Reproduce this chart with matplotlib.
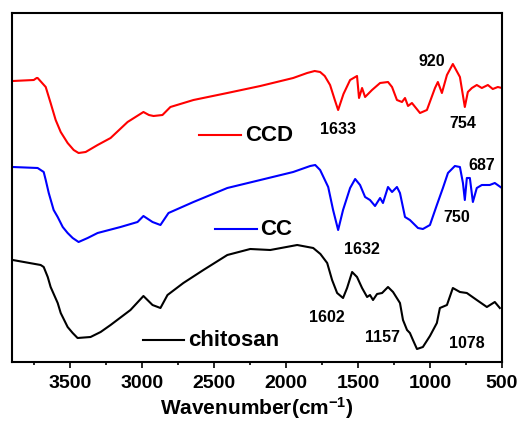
import matplotlib
matplotlib.use("Agg")
import matplotlib.pyplot as plt
from matplotlib.ticker import MultipleLocator

plt.rcParams["font.family"] = ["Liberation Sans", "DejaVu Sans"]
plt.rcParams["font.weight"] = "bold"
plt.rcParams["mathtext.fontset"] = "custom"
plt.rcParams["mathtext.rm"] = "Liberation Sans:bold"
plt.rcParams["mathtext.bf"] = "Liberation Sans:bold"
plt.rcParams["mathtext.default"] = "bf"

# FTIR spectra (transmittance, arbitrary units, curves are offset)
ccd_wn = [3895, 3749, 3729, 3722, 3666, 3632, 3597, 3562, 3514, 3472, 3438, 3389, 3306,
          3216, 3098, 2988, 2950, 2918, 2856, 2801, 2641, 2406, 2177, 1949, 1852, 1800,
          1762, 1730, 1693, 1660, 1637, 1600, 1554, 1506, 1492, 1471, 1450, 1402, 1346,
          1291, 1263, 1229, 1194, 1173, 1152, 1125, 1069, 1021, 965, 945, 917, 882, 841,
          792, 758, 737, 709, 675, 640, 598, 564, 529, 501]
ccd_t = [281, 282, 284, 284, 275, 259, 242, 230, 219, 212, 209, 210, 217,
         224, 240, 250, 247, 246, 247, 255, 262, 269, 276, 284, 289, 291,
         290, 286, 277, 262, 252, 268, 282, 286, 264, 274, 265, 272, 279,
         280, 275, 262, 260, 264, 256, 259, 249, 252, 274, 280, 269, 287, 298,
         285, 255, 270, 274, 277, 274, 277, 273, 275, 274]

cc_wn = [3895, 3722, 3680, 3666, 3645, 3611, 3583, 3548, 3514, 3479, 3438, 3375, 3306,
         3147, 3029, 2988, 2925, 2870, 2814, 2641, 2406, 2177, 1949, 1831, 1796, 1762,
         1706, 1672, 1637, 1603, 1554, 1519, 1485, 1450, 1416, 1381, 1346, 1326, 1291,
         1263, 1229, 1208, 1173, 1139, 1083, 1049, 1000, 952, 910, 875, 827, 792, 771,
         758, 744, 723, 702, 675, 640, 585, 550, 501]
cc_t = [195, 194, 190, 182, 169, 152, 145, 135, 129, 124, 120, 124, 129,
        135, 140, 146, 140, 137, 149, 160, 174, 182, 190, 196, 197, 192,
        175, 152, 132, 152, 174, 183, 177, 165, 162, 156, 164, 159, 175,
        170, 175, 169, 145, 142, 134, 133, 137, 157, 174, 189, 196, 195, 179,
        162, 184, 184, 160, 174, 177, 177, 179, 174]

chi_wn = [3895, 3701, 3680, 3652, 3632, 3583, 3562, 3514, 3479, 3445, 3355, 3285, 3216,
          3078, 2988, 2925, 2870, 2821, 2711, 2572, 2406, 2247, 2108, 1921, 1810, 1760,
          1713, 1679, 1644, 1603, 1575, 1540, 1506, 1471, 1436, 1416, 1395, 1367, 1332,
          1291, 1256, 1208, 1187, 1159, 1139, 1118, 1090, 1049, 1000, 952, 931, 882, 841,
          792, 744, 675, 605, 550, 515]
chi_t = [102, 97, 95, 85, 75, 59, 49, 35, 29, 24, 25, 30, 37,
         52, 66, 57, 54, 67, 79, 92, 107, 113, 112, 117, 114, 108,
         99, 82, 69, 64, 74, 90, 85, 74, 65, 67, 62, 68, 69,
         75, 70, 59, 42, 32, 29, 22, 13, 15, 26, 39, 54, 57, 74,
         70, 69, 62, 55, 60, 54]

# peak labels: text, wavenumber, height
peak_text = ["920", "1633", "754", "687", "750", "1632", "1602", "1157", "1078"]
peak_x = [986, 1637, 771, 640, 813, 1471, 1713, 1332, 744]
peak_y = [301, 232, 239, 197, 144, 112, 45, 24, 19]

names = ["CCD", "CC", "chitosan"]
colors = ["#ff0000", "#0000ff", "#000000"]

fig = plt.figure(figsize=(5.21, 4.29), dpi=100)
ax = fig.add_axes([12 / 521, 67 / 429, 490 / 521, 349 / 429])

series = [(ccd_wn, ccd_t), (cc_wn, cc_t), (chi_wn, chi_t)]
for (wn, t), c in zip(series, colors):
    ax.plot(wn, t, color=c, lw=1.5)

# hand placed legend entries next to each curve
legend_pos = [(0.382, 0.650), (0.414, 0.381), (0.267, 0.063)]
for (lx, ly), name, c in zip(legend_pos, names, colors):
    ax.plot([lx, lx + 0.085], [ly, ly], color=c, lw=1.5, transform=ax.transAxes)
    ax.text(lx + 0.093, ly, name, transform=ax.transAxes, fontsize=16,
            fontweight="bold", va="center", ha="left")

for txt, x, y in zip(peak_text, peak_x, peak_y):
    ax.text(x, y, txt, fontsize=11.5, fontweight="bold", ha="center", va="center")

ax.set_xlim(3900, 500)
ax.set_ylim(0, 349)
ax.set_yticks([])
ax.xaxis.set_major_locator(MultipleLocator(500))
ax.xaxis.set_minor_locator(MultipleLocator(250))
ax.tick_params(axis="x", which="major", direction="out", length=4.5, width=1.2,
               labelsize=14, pad=5)
ax.tick_params(axis="x", which="minor", direction="out", length=2.5, width=1.2)
for s in ax.spines.values():
    s.set_linewidth(1.5)
ax.set_xlabel(r"Wavenumber(cm$^{-1}$)", fontsize=15, fontweight="bold", labelpad=2)

plt.savefig("out.png", dpi=100)
